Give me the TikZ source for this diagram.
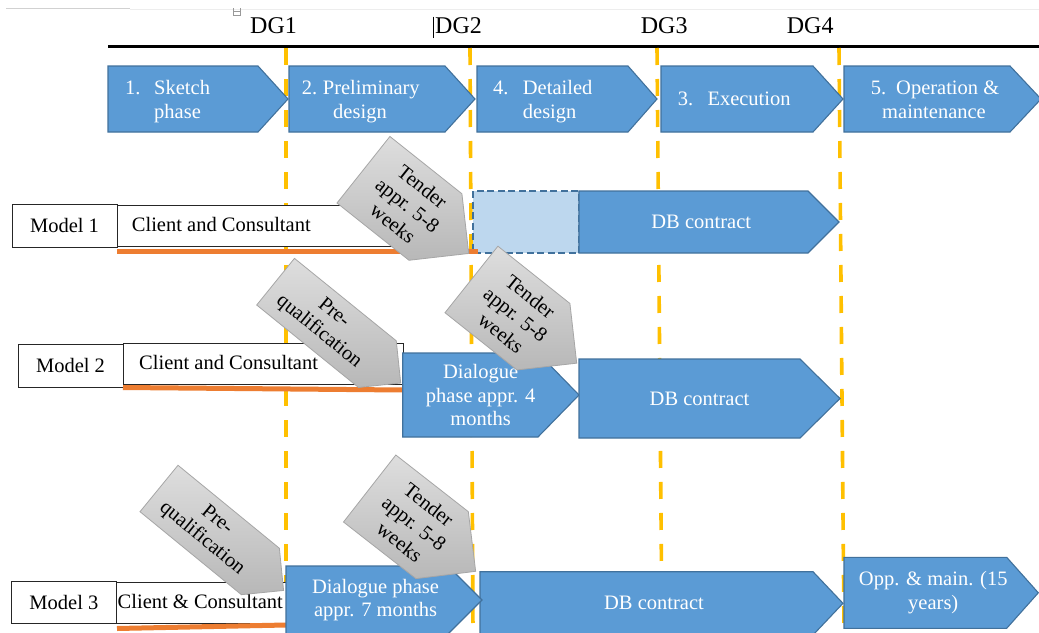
\documentclass[tikz,border=0pt]{standalone}
\usepackage{fontspec}
\setmainfont{Liberation Serif}
\definecolor{phaseblue}{HTML}{5B9BD5}
\definecolor{phaseedge}{HTML}{41719C}
\definecolor{lightblue}{HTML}{BDD7EE}
\definecolor{dgyellow}{HTML}{FFC000}
\definecolor{clientorange}{HTML}{ED7D31}
\tikzset{
  phase/.style={fill=phaseblue, draw=phaseedge, line width=1.1pt, line join=miter},
  tenderbox/.style={fill=lightblue, draw=phaseedge, line width=1.1pt, dash pattern=on 7pt off 3.5pt},
  grayshape/.style={draw=black!35, line width=0.8pt, top color=black!13, bottom color=black!28},
  wtext/.style={text=white, font=\fontsize{20.5}{23.6}\selectfont, inner sep=0pt},
  btext/.style={text=black, font=\fontsize{20.5}{23.6}\selectfont, inner sep=0pt},
  dgtext/.style={text=black, font=\fontsize{24}{28}\selectfont, inner sep=0pt, anchor=base west},
  modelbox/.style={fill=white, draw=black!85, line width=0.9pt, inner sep=0pt,
    font=\fontsize{20.5}{23.6}\selectfont},
  wbox/.style={fill=white, draw=black!85, line width=0.9pt},
  gate/.style={draw=dgyellow, line width=3.6pt, dash pattern=on 17pt off 14pt},
  contractor/.style={draw=clientorange, line width=5pt},
}
% pentagon arrow: name, style, left, top, corner x, tip x, bottom
\newcommand{\hplate}[7]{%
  \draw[#2] (#3,#4) -- (#5,#4) -- (#6,{(#4+#7)/2}) -- (#5,#7) -- (#3,#7) -- cycle;
  \coordinate (#1) at ({(#3+(#5+#6)/2)/2},{(#4+#7)/2});}
% tilted gray arrow: name, back corner x, y, angle, body length, height, text pos, text
\newcommand{\grayarrow}[8]{%
  \begin{scope}[shift={(#2,#3)}, rotate=#4]
    \draw[grayshape] (0,0) -- (#5,0) -- ({#5+#6/2},{-#6/2}) -- (#5,-#6) -- (0,-#6) -- cycle;
    \node[btext, align=center, rotate=#4] (#1) at (#7,{-#6/2}) {#8};
  \end{scope}}
\begin{document}
\begin{tikzpicture}[x=1pt,y=-1pt]
\useasboundingbox[fill=white] (0,0) rectangle (1039,632);

% header rulers
\draw[black!18, line width=1pt] (6,8.5) -- (130,8.5);
\draw[black!7, line width=1pt] (130,9) -- (1039,9);
\draw[black!40, line width=0.5pt] (233,8) -- (233,15) -- (240,15) -- (240,8);
\draw[black!40, line width=0.5pt] (233,11.5) -- (240,11.5);

% decision gates
\node[dgtext] (dg1) at (250,33.3) {DG1};
\node[dgtext] (dg2) at (435,33.3) {DG2};
\node[dgtext] (dg3) at (640.7,33.3) {DG3};
\node[dgtext] (dg4) at (786.7,33.3) {DG4};
\draw[black, line width=0.7pt] (433.3,16.7) -- (433.3,38.3);
\draw[black, line width=2.5pt] (108,46.7) -- (1039,46.7);

\draw[gate] (286,48) -- (286,632);
\draw[gate] (470,48) -- (473,632);
\draw[gate] (657,48) -- (662,632);
\draw[gate] (839,48) -- (844,632);

% project phases
\hplate{p1}{phase}{108}{66}{258}{288}{132}
\hplate{p2}{phase}{289}{66}{445}{475}{132}
\hplate{p4}{phase}{477}{66}{628}{657}{132}
\hplate{p3}{phase}{661}{66}{813}{843}{132}
\hplate{p5}{phase}{844}{66}{1010}{1041}{132}
\node[wtext, anchor=base west] (p1n) at (125,94.5) {1.};
\node[wtext, anchor=base west] (p1a) at (154,94.5) {Sketch};
\node[wtext, anchor=base west] (p1b) at (154,118) {phase};
\node[wtext, anchor=base west] (p2n) at (301.7,94.5) {2.};
\node[wtext, anchor=base west] (p2a) at (322.7,94.5) {Preliminary};
\node[wtext, anchor=base] (p2b) at (360,118) {design};
\node[wtext, anchor=base west] (p4n) at (493,94.5) {4.};
\node[wtext, anchor=base west] (p4a) at (522.7,94.5) {Detailed};
\node[wtext, anchor=base west] (p4b) at (522.7,118) {design};
\node[wtext, anchor=base west] (p3n) at (677.7,105.5) {3.};
\node[wtext, anchor=base west] (p3a) at (707.3,105.5) {Execution};
\node[wtext, anchor=base west] (p5n) at (870.7,94.5) {5.};
\node[wtext, anchor=base west] (p5a) at (896,94.5) {Operation \&};
\node[wtext, anchor=base] (p5b) at (934,118) {maintenance};

% Model 1
\node[modelbox, minimum width=105pt, minimum height=43pt] (m1) at (64.5,225.5) {Model 1};
\draw[wbox] (117,205) rectangle (440,246);
\node[btext, anchor=base west] (c1) at (131.7,231.7) {Client and Consultant};
\draw[tenderbox] (473,191) rectangle (579,253);
\hplate{db1}{phase}{579}{191}{808}{839}{253}
\node[wtext] (db1t) at (db1) {DB contract};
\draw[contractor] (117,251) -- (478,251);
\grayarrow{tender1}{337}{203}{-38.5}{92}{85}{56.6}{Tender\\appr. 5-8\\weeks}

% Model 2
\node[modelbox, minimum width=105pt, minimum height=43pt] (m2) at (70.5,365.5) {Model 2};
\draw[wbox] (123,343.3) rectangle (403.3,384);
\node[btext, anchor=base west] (c2) at (139,369.3) {Client and Consultant};
\draw[contractor] (123,387.5) -- (403,390);
\hplate{dl2}{phase}{402.7}{353}{538}{579}{437}
\node[wtext, align=center] (dl2t) at (dl2) {Dialogue\\phase appr. 4\\months};
\hplate{db2}{phase}{579}{359}{800}{840}{438}
\node[wtext] (db2t) at (db2) {DB contract};
\grayarrow{pq2}{256.7}{305}{-39}{131}{60}{65}{Pre-\\qualification}
\grayarrow{tender2}{445}{312.7}{-38.5}{92}{85}{56.6}{Tender\\appr. 5-8\\weeks}

% Model 3
\node[modelbox, minimum width=104.3pt, minimum height=41.6pt] (m3) at (63.9,602.5) {Model 3};
\draw[wbox] (116,582.7) rectangle (286,623.3);
\node[btext, anchor=base west] (c3) at (117.5,608.3) {Client \& Consultant};
\draw[contractor] (117,628.5) -- (286,625);
\hplate{db3}{phase}{480}{571.7}{813}{843}{635}
\node[wtext] (db3t) at (db3) {DB contract};
\hplate{dl3}{phase}{286}{566}{448}{482}{634}
\node[wtext, align=center] (dl3t) at (dl3) {Dialogue phase\\appr. 7 months};
\hplate{opp}{phase}{844}{557.3}{1006.7}{1038.3}{628.3}
\node[wtext, align=center] (oppt) at (opp) {Opp. \& main. (15\\years)};
\grayarrow{pq3}{140}{511.7}{-39.3}{131}{60}{65}{Pre-\\qualification}
\grayarrow{tender3}{343.5}{522}{-38}{92}{85}{56.6}{Tender\\appr. 5-8\\weeks}
\end{tikzpicture}
\end{document}
